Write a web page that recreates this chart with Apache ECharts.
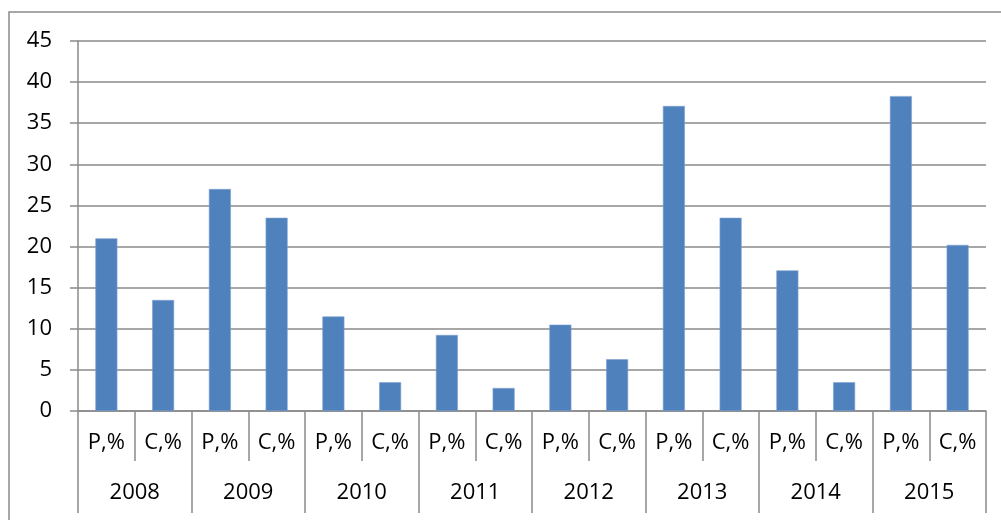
<!DOCTYPE html>
<html>
<head>
<meta charset="utf-8">
<title>P,% / C,% 2008–2015</title>
<script src="https://cdn.jsdelivr.net/npm/echarts@6/dist/echarts.min.js"></script>
<style>
  html, body { margin: 0; padding: 0; background: #fff; }
  #chart { width: 1001px; height: 520px; }
</style>
</head>
<body>
<div id="chart"></div>
<script>
// Years shown on the outer axis row
const years = ['2008', '2009', '2010', '2011', '2012', '2013', '2014', '2015'];
// Indicators shown within each year
const indicators = ['P,%', 'C,%'];
// Values per year, in indicator order
const pValues = [21.0, 27.0, 11.5, 9.25, 10.5, 37.1, 17.1, 38.3];
const cValues = [13.5, 23.5, 3.5, 2.8, 6.3, 23.5, 3.5, 20.2];
// Value axis ticks
const yTicks = { min: 0, max: 45, step: 5 };

// Flatten into one inner category per (year, indicator) pair
const innerLabels = [];
const barValues = [];
years.forEach((y, i) => {
  innerLabels.push(indicators[0]);
  barValues.push(pValues[i]);
  innerLabels.push(indicators[1]);
  barValues.push(cValues[i]);
});

const lineColor = '#8a8a8a';
const fontFamily = '"Open Sans", "Liberation Sans", sans-serif';

const chart = echarts.init(document.getElementById('chart'), null, { renderer: 'canvas' });
chart.setOption({
  animation: false,
  backgroundColor: '#ffffff',
  graphic: [{
    type: 'rect',
    z: -10,
    shape: { x: 9, y: 12, width: 1100, height: 600 },
    style: { fill: 'none', stroke: lineColor, lineWidth: 1.5 }
  }],
  grid: { left: 78, right: 15, top: 41, bottom: 109, containLabel: false },
  xAxis: [{
    type: 'category',
    data: innerLabels,
    position: 'bottom',
    offset: 0,
    axisLine: { show: true, lineStyle: { color: lineColor, width: 1.5 } },
    axisTick: { show: true, interval: 0, length: 50, lineStyle: { color: lineColor, width: 1.5 } },
    axisLabel: { interval: 0, margin: 21, color: '#000', fontSize: 22, fontFamily: fontFamily },
    splitLine: { show: false }
  }, {
    type: 'category',
    data: years,
    position: 'bottom',
    offset: 0,
    axisLine: { show: false },
    axisTick: { show: true, interval: 0, length: 102, lineStyle: { color: lineColor, width: 1.5 } },
    axisLabel: { interval: 0, margin: 71, color: '#000', fontSize: 22, fontFamily: fontFamily },
    splitLine: { show: false }
  }],
  yAxis: {
    type: 'value',
    min: yTicks.min,
    max: yTicks.max,
    interval: yTicks.step,
    axisLine: { show: true, lineStyle: { color: lineColor, width: 1.5 } },
    axisTick: { show: true, length: 8, lineStyle: { color: lineColor, width: 1.5 } },
    axisLabel: { margin: 26, color: '#000', fontSize: 22, fontFamily: fontFamily },
    splitLine: { show: true, lineStyle: { color: lineColor, width: 1.5 } }
  },
  series: [{
    type: 'bar',
    xAxisIndex: 0,
    data: barValues,
    barWidth: 22,
    itemStyle: { color: '#4f81bd', borderColor: '#7fa3d2', borderWidth: 0.6 }
  }]
});
</script>
</body>
</html>
